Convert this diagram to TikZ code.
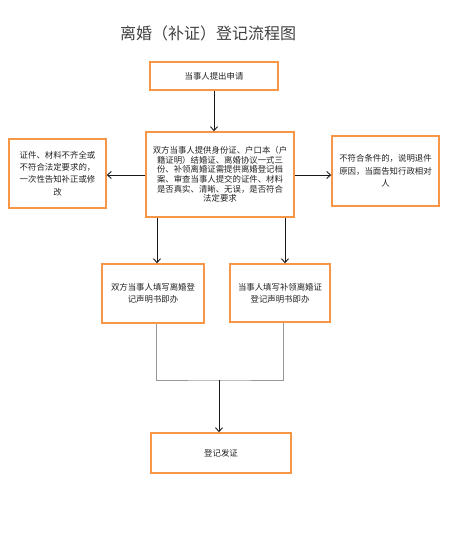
\documentclass[tikz,border=0pt]{standalone}
\usepackage{fontspec}
\setmainfont{Noto Sans CJK SC}
\usetikzlibrary{arrows.meta}
\definecolor{boxorange}{HTML}{F79646}
\definecolor{txt}{HTML}{222222}
\tikzset{
  stepbox/.style={draw=boxorange, line width=1.4pt, fill=white, inner sep=0pt, align=center, text=txt,
    font=\fontsize{8.4}{12.3}\selectfont},
  arr/.style={-{Straight Barb[length=4pt,width=7pt,line width=0.9pt]}, line width=1pt, black!90},
  graylink/.style={draw=gray!80, line width=0.9pt}
}
\begin{document}
\begin{tikzpicture}[x=1pt,y=-1pt]
\useasboundingbox (0,0) rectangle (465,535);
\node[text=black!75, font=\fontsize{16}{18}\selectfont] (title) at (208,33) {离婚（补证）登记流程图};
\node[stepbox, minimum width=128pt, minimum height=28pt] (apply) at (214,76) {当事人提出申请};
\node[stepbox, minimum width=148pt, minimum height=85pt, font=\fontsize{8.4}{9.6}\selectfont] (check) at (220,174.5)
  {双方当事人提供身份证、户口本（户\\籍证明）结婚证、离婚协议一式三\\份、补领离婚证需提供离婚登记档\\案、审查当事人提交的证件、材料\\是否真实、清晰、无误，是否符合\\法定要求};
\node[stepbox, minimum width=97pt, minimum height=69pt] (fix) at (57.5,173.5)
  {证件、材料不齐全或\\不符合法定要求的，\\一次性告知补正或修\\改};
\node[stepbox, minimum width=107pt, minimum height=70pt] (reject) at (385.5,171)
  {不符合条件的，说明退件\\原因，当面告知行政相对\\人};
\node[stepbox, minimum width=102pt, minimum height=59pt] (both) at (153,293.5)
  {双方当事人填写离婚登\\记声明书即办};
\node[stepbox, minimum width=100pt, minimum height=58pt] (single) at (280,293)
  {当事人填写补领离婚证\\登记声明书即办};
\node[stepbox, minimum width=140pt, minimum height=40pt] (issue) at (221,453) {登记发证};
\coordinate (join) at (219,380);

\draw[arr] (apply.south) -- (check.north -| apply.south);
\draw[arr] (check.west |- 0,175) -- (fix.east |- 0,175);
\draw[arr] (check.east |- 0,175) -- (reject.west |- 0,175);
\draw[arr] (check.south -| 157,0) -- (both.north -| 157,0);
\draw[arr] (check.south -| 285,0) -- (single.north -| 285,0);
\draw[graylink] (both.south -| 156,0) |- (join) -| (single.south -| 283,0);
\draw[arr] (join) -- (issue.north -| join);
\end{tikzpicture}
\end{document}
